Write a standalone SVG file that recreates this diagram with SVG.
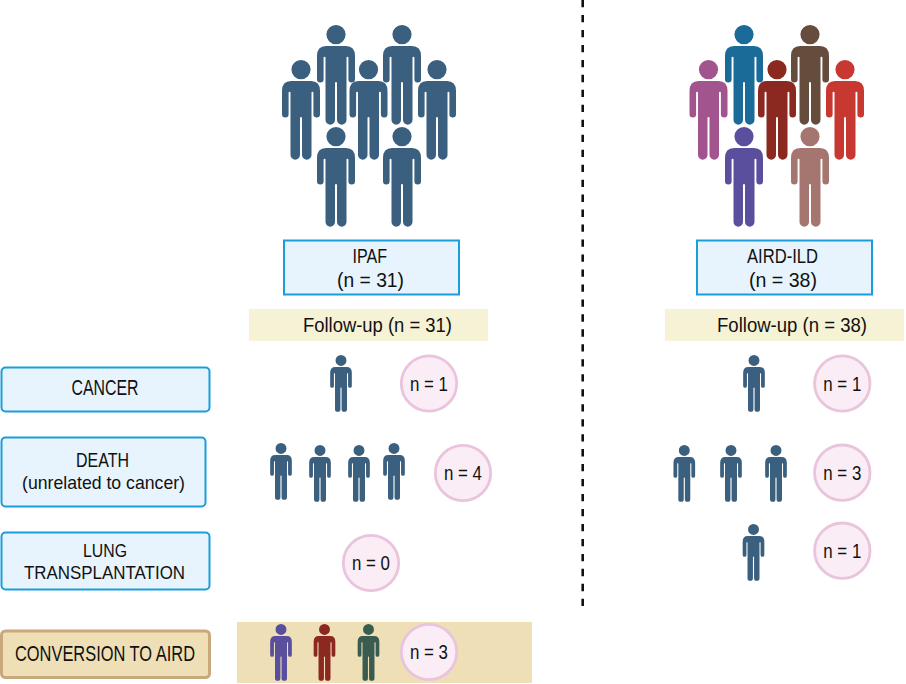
<svg xmlns="http://www.w3.org/2000/svg" width="906" height="684" viewBox="0 0 906 684">
<style>
text{font-family:"Liberation Sans",Arial,sans-serif;fill:#111;text-anchor:start}
.t{font-size:21.5px}.s{font-size:20px}.n{font-size:19.5px}.d{font-size:19px}.l{font-size:19.200px}
.blue{fill:#e7f4fd;stroke:#1b9ddb;stroke-width:2}
.tan{fill:#eedfb7;stroke:#c9a97c;stroke-width:3}
.fu{fill:#f6f2d5}
.c{fill:#faedf6;stroke:#eac4dc;stroke-width:2.8}
.b{fill:#3b5f7f}
</style>
<defs>
<path id="p" d="M-10 21H10Q19 21 19 31V54.2A3.3 3.3 0 0 1 12.4 54.2V32.5A1 1 0 0 0 10.5 32.5V95A4.5 4.5 0 0 1 1 95V58A1 1 0 0 0 -1 58V95A4.5 4.5 0 0 1 -10.5 95V32.5A1 1 0 0 0 -12.4 32.5V54.2A3.3 3.3 0 0 1 -19 54.2V31Q-19 21 -10 21ZM9.6 9.6A9.6 9.6 0 1 1 -9.6 9.6A9.6 9.6 0 1 1 9.6 9.6Z"/>
</defs>
<g id="connectors"><path d="M582.7 0V606" fill="none" stroke="#111" stroke-width="2.6" stroke-dasharray="7.3 7.67"/></g>
<g id="group-ipaf" class="b">
<use href="#p" x="336" y="25"/><use href="#p" x="402" y="25"/>
<use href="#p" x="301" y="60"/><use href="#p" x="368.500" y="60"/><use href="#p" x="437" y="60"/>
<use href="#p" x="336" y="127"/><use href="#p" x="402" y="127"/>
</g>
<g id="group-aird">
<use href="#p" x="744" y="25" fill="#1b6b99"/><use href="#p" x="810" y="25" fill="#664c3c"/>
<use href="#p" x="708.500" y="60" fill="#a2548f"/><use href="#p" x="777" y="60" fill="#8b2820"/><use href="#p" x="845" y="60" fill="#c73831"/>
<use href="#p" x="744" y="127" fill="#5a4f9c"/><use href="#p" x="810" y="127" fill="#a5766f"/>
</g>
<g id="node-ipaf"><rect class="blue" x="284" y="240.500" width="175" height="54"/>
<text class="s"><tspan x="352.500" y="263" textLength="34.500" lengthAdjust="spacingAndGlyphs">IPAF</tspan><tspan x="337" y="286.500" textLength="67" lengthAdjust="spacingAndGlyphs">(n = 31)</tspan></text></g>
<g id="node-aird"><rect class="blue" x="697" y="240.500" width="175" height="54"/>
<text class="s"><tspan x="747" y="263" textLength="71" lengthAdjust="spacingAndGlyphs">AIRD-ILD</tspan><tspan x="749" y="286.500" textLength="68" lengthAdjust="spacingAndGlyphs">(n = 38)</tspan></text></g>
<g id="node-followup-ipaf"><rect class="fu" x="249" y="309" width="239" height="32"/>
<text class="s" x="303" y="331.500" textLength="149" lengthAdjust="spacingAndGlyphs">Follow-up (n = 31)</text></g>
<g id="node-followup-aird"><rect class="fu" x="665" y="309" width="239" height="32"/>
<text class="s" x="717" y="331.500" textLength="150" lengthAdjust="spacingAndGlyphs">Follow-up (n = 38)</text></g>
<g id="node-cancer"><rect class="blue" x="1.500" y="367.500" width="208" height="44" rx="4"/>
<text class="t" x="71.500" y="395" textLength="67" lengthAdjust="spacingAndGlyphs">CANCER</text></g>
<g id="node-death"><rect class="blue" x="1.500" y="437.500" width="204" height="69" rx="4"/>
<text class="s" x="76" y="467" textLength="53" lengthAdjust="spacingAndGlyphs">DEATH</text>
<text class="d" x="22" y="488.500" textLength="163" lengthAdjust="spacingAndGlyphs">(unrelated to cancer)</text></g>
<g id="node-lung"><rect class="blue" x="1.500" y="532.500" width="208" height="57" rx="4"/>
<text class="l" x="83" y="557" textLength="44" lengthAdjust="spacingAndGlyphs">LUNG</text>
<text class="l" x="24" y="578.500" textLength="161" lengthAdjust="spacingAndGlyphs">TRANSPLANTATION</text></g>
<g id="node-conversion"><rect class="tan" x="1.500" y="631" width="208" height="46.500" rx="4"/>
<text class="t" x="15" y="660.500" textLength="180" lengthAdjust="spacingAndGlyphs">CONVERSION TO AIRD</text></g>
<g id="row-conversion"><rect x="237" y="622" width="295" height="61" fill="#eedfb7"/>
<use href="#p" transform="translate(281 624) scale(.57)" fill="#5a4f9c"/>
<use href="#p" transform="translate(324.500 624) scale(.57)" fill="#8b2820"/>
<use href="#p" transform="translate(368.500 624) scale(.57)" fill="#3a5c50"/>
<circle class="c" cx="429" cy="652" r="27.700"/><text class="n" x="410" y="659" textLength="38" lengthAdjust="spacingAndGlyphs">n = 3</text></g>
<g id="row-cancer-ipaf" class="b"><use href="#p" transform="translate(341 355) scale(.57)"/></g>
<g id="n-cancer-ipaf"><circle class="c" cx="429" cy="383.500" r="27.700"/><text class="n" x="410" y="390.500" textLength="38" lengthAdjust="spacingAndGlyphs">n = 1</text></g>
<g id="row-death-ipaf" class="b"><use href="#p" transform="translate(281 443) scale(.57)"/><use href="#p" transform="translate(320 445) scale(.57)"/><use href="#p" transform="translate(359 445) scale(.57)"/><use href="#p" transform="translate(394 443) scale(.57)"/></g>
<g id="n-death-ipaf"><circle class="c" cx="463" cy="473" r="27.700"/><text class="n" x="444" y="480" textLength="38" lengthAdjust="spacingAndGlyphs">n = 4</text></g>
<g id="n-lung-ipaf"><circle class="c" cx="371" cy="563" r="27.700"/><text class="n" x="352" y="570" textLength="38" lengthAdjust="spacingAndGlyphs">n = 0</text></g>
<g id="row-cancer-aird" class="b"><use href="#p" transform="translate(754 355) scale(.57)"/></g>
<g id="n-cancer-aird"><circle class="c" cx="842.300" cy="383.500" r="27.700"/><text class="n" x="823.300" y="390.500" textLength="38" lengthAdjust="spacingAndGlyphs">n = 1</text></g>
<g id="row-death-aird" class="b"><use href="#p" transform="translate(684.300 445) scale(.57)"/><use href="#p" transform="translate(731 445) scale(.57)"/><use href="#p" transform="translate(776 445) scale(.57)"/></g>
<g id="n-death-aird"><circle class="c" cx="842.300" cy="472.700" r="27.700"/><text class="n" x="823.300" y="479.700" textLength="38" lengthAdjust="spacingAndGlyphs">n = 3</text></g>
<g id="row-lung-aird" class="b"><use href="#p" transform="translate(753.500 524) scale(.57)"/></g>
<g id="n-lung-aird"><circle class="c" cx="842.300" cy="550.700" r="27.700"/><text class="n" x="823.300" y="557.700" textLength="38" lengthAdjust="spacingAndGlyphs">n = 1</text></g>
</svg>
